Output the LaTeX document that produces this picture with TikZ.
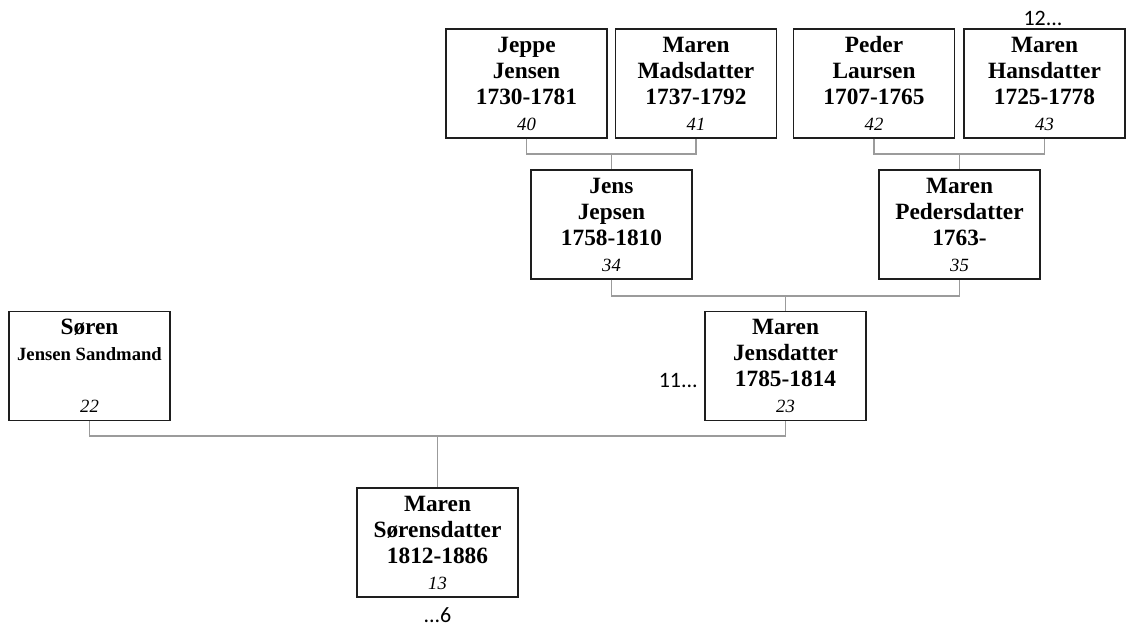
\documentclass[tikz,border=0pt]{standalone}
\usepackage{fontspec}
\setmainfont{Liberation Serif}
\newfontfamily\calfont{Carlito}
\definecolor{linkgray}{RGB}{155,155,155}
\definecolor{boxline}{RGB}{30,30,30}
\newcommand{\pnum}[1]{{\mdseries\itshape\fontsize{14}{19.5}\selectfont #1}}
\tikzset{
  person/.style={draw=boxline, line width=0.9pt, minimum width=120.75pt,
    minimum height=81.75pt, inner sep=0pt, align=center,
    font=\bfseries\fontsize{17.5}{19.5}\selectfont},
  link/.style={draw=linkgray, line width=0.8pt},
  more/.style={font=\calfont\fontsize{16.5}{18}\selectfont, inner sep=0pt}
}
\begin{document}
\begin{tikzpicture}[x=0.75pt,y=-0.75pt]
  \useasboundingbox (0,0) rectangle (1130,627);
  \draw
    (526.5,83.5) node[person] (p40){Jeppe\\Jensen\\1730-1781\\\pnum{40}}
    (696,83.5) node[person] (p41){Maren\\Madsdatter\\1737-1792\\\pnum{41}}
    (874,83.5) node[person] (p42){Peder\\Laursen\\1707-1765\\\pnum{42}}
    (1044.5,83.5) node[person] (p43){Maren\\Hansdatter\\1725-1778\\\pnum{43}}
    (611.5,224.5) node[person] (p34){Jens\\Jepsen\\1758-1810\\\pnum{34}}
    (959.5,224.5) node[person] (p35){Maren\\Pedersdatter\\1763-\\\pnum{35}}
    (785.5,366) node[person] (p23){Maren\\Jensdatter\\1785-1814\\\pnum{23}}
    (89.5,366) node[person] (p22){Søren\\{\fontsize{14}{19.5}\selectfont Jensen Sandmand}\\ \\\pnum{22}}
    (437.5,542.5) node[person] (p13){Maren\\Sørensdatter\\1812-1886\\\pnum{13}};
  \node[more, anchor=base] (m12) at (1043,26) {12...};
  \node[more, anchor=base east] (m11) at (698,387) {11...};
  \node[more, anchor=base] (m6) at (437.5,622) {...6};
  \coordinate (j34) at (611.5,154);
  \coordinate (j35) at (959.5,154);
  \coordinate (j23) at (785.5,296);
  \coordinate (j13) at (437.5,436);
  \begin{scope}[link]
    \draw (p40.south) |- (j34) -| (p41.south);
    \draw (j34) to (p34.north);
    \draw (p42.south) |- (j35) -| (p43.south);
    \draw (j35) to (p35.north);
    \draw (p34.south) |- (j23) -| (p35.south);
    \draw (j23) to (p23.north);
    \draw (p22.south) |- (j13) -| (p23.south);
    \draw (j13) to (p13.north);
  \end{scope}
\end{tikzpicture}
\end{document}
